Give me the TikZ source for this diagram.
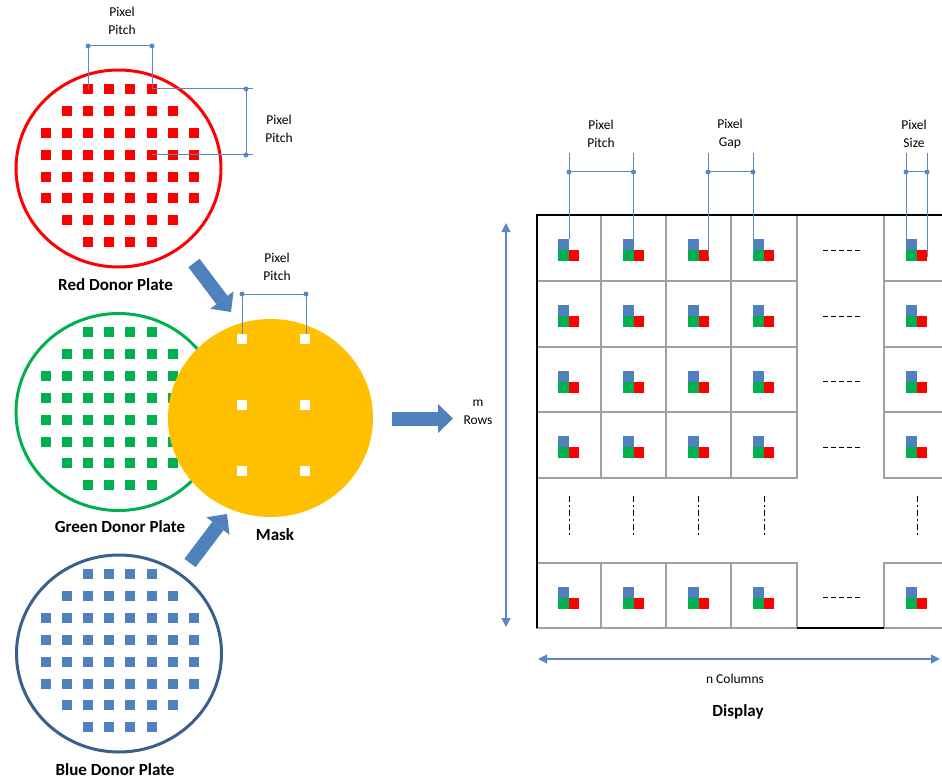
\documentclass[tikz,border=0pt]{standalone}
\usepackage{fontspec}
\setmainfont{Carlito}
\usetikzlibrary{arrows.meta,positioning,shapes.geometric}

\definecolor{plred}{HTML}{FF0000}
\definecolor{plgreen}{HTML}{00B050}
\definecolor{plblue}{HTML}{4F81BD}
\definecolor{pldarkblue}{HTML}{3A5F8C}
\definecolor{maskyellow}{HTML}{FFC000}
\definecolor{dimblue}{HTML}{5B87C5}
\definecolor{cellgrey}{HTML}{A0A0A0}

\tikzset{
	plate/.style={
		ellipse,
		line width=3pt,
		minimum width=205pt,
		minimum height=197pt,
		inner sep=0pt},
	maskplate/.style={
		ellipse,
		fill=maskyellow,
		minimum width=205pt,
		minimum height=198pt,
		inner sep=0pt},
	platelabel/.style={
		font=\bfseries\fontsize{17}{20}\selectfont,
		inner sep=0pt,
		anchor=base},
	smalllabel/.style={
		font=\fontsize{13.5}{18}\selectfont,
		align=center,
		inner sep=0pt},
	dimline/.style={
		draw=dimblue,
		line width=1pt},
	dimdot/.style={
		circle,
		fill=dimblue,
		inner sep=0pt,
		minimum size=5pt},
	bigarrow/.style={
		draw=plblue,
		line width=14pt,
		-{Triangle[length=15pt,width=29pt,line width=0pt]}},
	axisarrow/.style={
		draw=dimblue,
		line width=1.2pt,
		{Triangle[length=9pt,width=9pt]}-{Triangle[length=9pt,width=9pt]}},
	cellline/.style={
		draw=cellgrey,
		line width=1.3pt},
	gapdash/.style={
		black,
		line width=1pt,
		dash pattern=on 5pt off 3pt},
	rowdash/.style={
		black,
		line width=1pt,
		dash pattern=on 6pt off 3pt on 2pt off 3pt}
}

% square spots of one donor plate, #2 = centre of the top row
\newcommand\donorgrid[2]{%
	\foreach \r/\lo/\hi in {1/3/6,2/2/7,3/1/8,4/1/8,5/1/8,6/1/8,7/2/7,8/3/6}{
		\foreach \c in {\lo,...,\hi}{
			\fill[#1] ({46+21.1*(\c-1)-5},{#2+21.9*(\r-1)-5}) rectangle +(10,10);
		}
	}%
}

% blue / green / red sub-pixels of one display pixel
\newcommand\triad[2]{%
	\fill[plblue] ({#1-11},{#2-11}) rectangle ({#1},{#2});
	\fill[plgreen] ({#1-11},{#2}) rectangle ({#1},{#2+11});
	\fill[plred] ({#1},{#2}) rectangle ({#1+10},{#2+11});%
}

\begin{document}
\begin{tikzpicture}[x=1pt, y=-1pt]
	\useasboundingbox (0,0) rectangle (942,778);

	% donor plates
	\node[plate, draw=plred] (redplate) at (118.5,168.5) {};
	\donorgrid{plred}{89}
	\node[platelabel] (redlabel) at (115.5,290) {Red Donor Plate};

	\node[plate, draw=plgreen] (greenplate) at (118.5,412) {};
	\donorgrid{plgreen}{332}
	\node[platelabel] (greenlabel) at (120,532) {Green Donor Plate};

	\node[plate, draw=pldarkblue] (blueplate) at (119,653.5) {};
	\donorgrid{plblue}{574}
	\node[platelabel] (bluelabel) at (115,775) {Blue Donor Plate};

	% mask with its openings
	\node[maskplate] (mask) at (270.5,418) {};
	\foreach \hx in {242,305}
		\foreach \hy in {339,405,471}
			\fill[white] (\hx-5,\hy-5) rectangle +(10,10);
	\node[platelabel] (masklabel) at (275,540) {Mask};

	% pitch on the red plate
	\node[smalllabel] (redpitch) at (122,21) {Pixel\\Pitch};
	\coordinate (rpa) at (88,46);
	\coordinate (rpb) at (152,46);
	\coordinate (rpa0) at (88,89);
	\coordinate (rpb0) at (152,89);
	\draw[dimline] (rpa0) -- (rpa) -- (rpb) -- (rpb0);
	\node[smalllabel] (redpitchv) at (279,129) {Pixel\\Pitch};
	\coordinate (rva) at (246,89);
	\coordinate (rvb) at (246,155);
	\coordinate (rve1) at (253,89);
	\coordinate (rve2) at (253,155);
	\coordinate (rvs) at (152,155);
	\draw[dimline] (rpb0) -- (rve1);
	\draw[dimline] (rvs) -- (rve2);
	\draw[dimline] (rva) -- (rvb);
	\foreach \d in {rpa,rpb,rva,rvb}
		\node[dimdot] at (\d) {};

	% pitch on the mask
	\node[smalllabel] (maskpitch) at (277,267) {Pixel\\Pitch};
	\coordinate (mpa) at (242,294);
	\coordinate (mpb) at (306,294);
	\coordinate (mpa0) at (242,334);
	\coordinate (mpb0) at (306,334);
	\draw[dimline] (mpa0) -- (mpa) -- (mpb) -- (mpb0);
	\foreach \d in {mpa,mpb}
		\node[dimdot] at (\d) {};

	% plates onto the mask, mask onto the display
	\coordinate (rtail) at (194,263);
	\coordinate (rtip) at (231,312);
	\coordinate (btail) at (190,563);
	\coordinate (btip) at (227,514);
	\coordinate (mtail) at (392,418.5);
	\coordinate (mtip) at (453,418.5);
	\draw[bigarrow] (rtail) -- (rtip);
	\draw[bigarrow] (btail) -- (btip);
	\draw[bigarrow] (mtail) -- (mtip);

	% display cells
	\foreach \xa/\xb in {537/601,601/666,666/731,731/797,884/950}{
		\foreach \ya/\yb in {215/281,281/347,347/412,412/478,563/628}{
			\draw[cellline] (\xa,\ya) rectangle (\xb,\yb);
			\triad{(\xa+\xb)/2}{(\ya+\yb)/2+2}
		}
	}
	\draw[black, line width=2pt] (950,215) -- (537,215) -- (537,628);
	\draw[black, line width=2pt] (797,628) -- (884,628);

	% skipped columns and rows
	\foreach \y in {250,316,381.5,447,597.5}
		\draw[gapdash] (823,\y) -- (863,\y);
	\foreach \x in {569,633.5,698.5,764,917}
		\draw[rowdash] (\x,496) -- (\x,537);

	% pitch, gap and size on the display
	\node[smalllabel] (dpitch) at (601,134) {Pixel\\Pitch};
	\node[smalllabel] (dgap) at (730,134) {Pixel\\Gap};
	\node[smalllabel] (dsize) at (914,134) {Pixel\\Size};
	\foreach \n/\x/\yb in {pa/569/239,pb/633.5/239,ga/708/257,gb/753/255,sa/906/239,sb/927/257}{
		\coordinate (\n top) at (\x,153);
		\coordinate (\n) at (\x,172);
		\coordinate (\n bot) at (\x,\yb);
		\draw[dimline] (\n top) -- (\n bot);
	}
	\draw[dimline] (pa) -- (pb);
	\draw[dimline] (ga) -- (gb);
	\draw[dimline] (sa) -- (sb);
	\foreach \d in {pa,pb,ga,gb,sa,sb}
		\node[dimdot] at (\d) {};

	% rows and columns
	\coordinate (rowtop) at (506,223);
	\coordinate (rowbot) at (506,627);
	\draw[axisarrow] (rowtop) -- (rowbot);
	\node[smalllabel] (rowlabel) at (478,412) {m\\Rows};
	\coordinate (colleft) at (538,659);
	\coordinate (colright) at (940,659);
	\draw[axisarrow] (colleft) -- (colright);
	\node[smalllabel] (collabel) at (735,679) {n Columns};
	\node[platelabel] (displabel) at (738,716) {Display};
\end{tikzpicture}
\end{document}
